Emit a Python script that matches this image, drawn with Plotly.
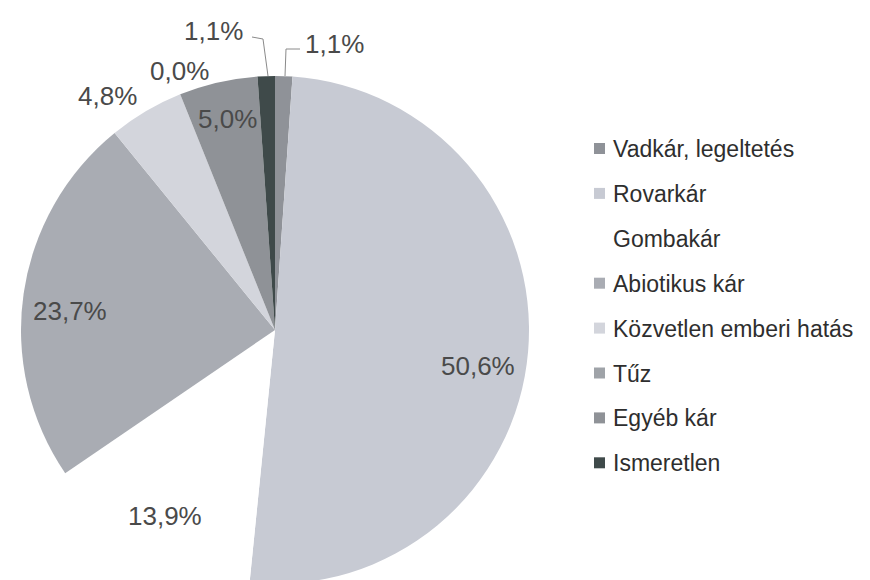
import plotly.graph_objects as go

categories = ["Vadkár, legeltetés", "Rovarkár", "Gombakár", "Abiotikus kár",
              "Közvetlen emberi hatás", "Tűz", "Egyéb kár", "Ismeretlen"]
values = [1.1, 50.6, 13.9, 23.7, 4.8, 0.0, 5.0, 1.1]
value_labels = ["1,1%", "50,6%", "13,9%", "23,7%", "4,8%", "0,0%", "5,0%", "1,1%"]
colors = ["#8f9298", "#c7cad3", "#ffffff", "#a9acb3", "#d3d5dc", "#9fa3a8", "#8f9297", "#3f4a4a"]

W, H = 870, 580
# label centres in pixels (layout)
label_pos = [(326, 36), (470, 358), (157, 508), (62, 303), (99, 88), (171, 63), (219, 111), (205, 23)]

def px(x, y):
    return x / W, 1 - y / H

fig = go.Figure(go.Pie(
    labels=categories, values=values, sort=False, direction="clockwise",
    marker=dict(colors=colors, line=dict(width=0)),
    textinfo="none", hoverinfo="label+percent",
    domain=dict(x=[13 / W, 521 / W], y=[4 / H, 1 - 68 / H]),
    showlegend=False,
))

annotations = []
for txt, (x, y) in zip(value_labels, label_pos):
    ax, ay = px(x, y)
    annotations.append(dict(x=ax, y=ay, xref="paper", yref="paper", text=txt,
                            showarrow=False, xanchor="center", yanchor="middle",
                            font=dict(family="Liberation Sans, Arial", size=26, color="#4a4a4a")))

shapes = []
# leader lines for the two thin slices
for pts in ([(244, 29), (255, 31), (260, 68)], [(292, 41), (278, 41), (277, 68)]):
    path = "M " + " L ".join(f"{px(x, y)[0]},{px(x, y)[1]}" for x, y in pts)
    shapes.append(dict(type="path", path=path, xref="paper", yref="paper",
                       line=dict(color="#8a8a8a", width=1)))

# legend (manual, to reproduce the wide row spacing)
leg_y0, leg_dy = 141, 44.9
for i, (cat, col) in enumerate(zip(categories, colors)):
    yc = leg_y0 + i * leg_dy
    x0, y0 = px(586, yc - 6)
    x1, y1 = px(597, yc + 5)
    shapes.append(dict(type="rect", xref="paper", yref="paper", x0=x0, x1=x1, y0=y1, y1=y0,
                       fillcolor=col, line=dict(width=0)))
    tx, ty = px(603, yc)
    annotations.append(dict(x=tx, y=ty, xref="paper", yref="paper", text=cat,
                            showarrow=False, xanchor="left", yanchor="middle",
                            font=dict(family="Liberation Sans, Arial", size=23, color="#2e2e2e")))

fig.update_layout(
    width=W, height=H, margin=dict(l=0, r=0, t=0, b=0),
    paper_bgcolor="white", plot_bgcolor="white",
    annotations=annotations, shapes=shapes,
)
fig.write_html("out.html")
